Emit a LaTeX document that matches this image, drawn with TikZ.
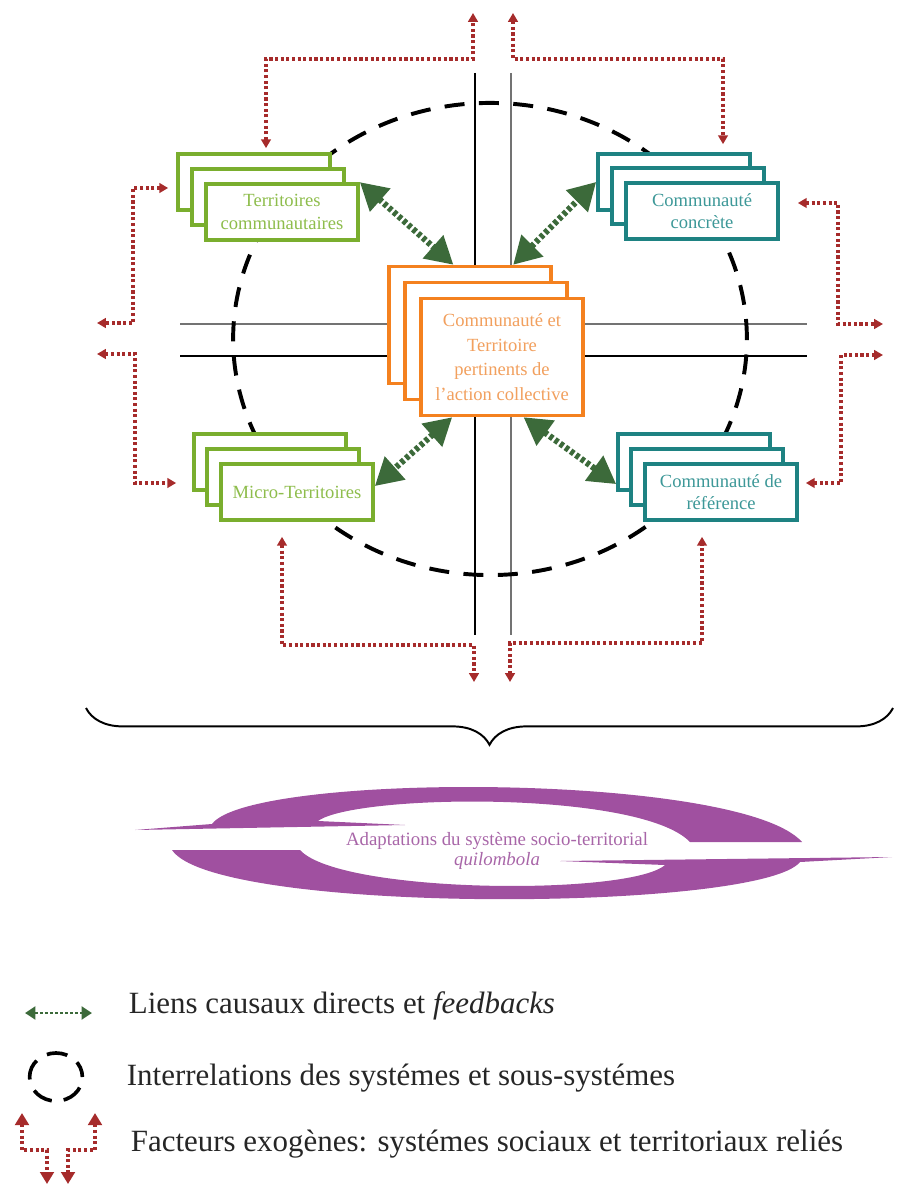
\documentclass[tikz,border=0pt]{standalone}
\usepackage{fontspec}
\setmainfont{Liberation Serif}
\usepackage{tikz}
\usetikzlibrary{arrows.meta,positioning,calc,decorations.pathreplacing}
\definecolor{terrgreen}{HTML}{7AAE2E}
\definecolor{terrtext}{HTML}{8EBD4C}
\definecolor{commteal}{HTML}{1E8282}
\definecolor{commtext}{HTML}{3D9898}
\definecolor{actorange}{HTML}{F4811F}
\definecolor{acttext}{HTML}{F2A05E}
\definecolor{causalgreen}{HTML}{3C6A3A}
\definecolor{exored}{HTML}{A62B2B}
\definecolor{adaptpurple}{HTML}{A050A0}
\definecolor{adapttext}{HTML}{A866A8}

\begin{document}
\begin{tikzpicture}[x=0.0125cm,y=-0.0125cm,
          every node/.style={font=\fontsize{6.6}{7.9}\selectfont},
          stackbox/.style={draw,line width=1.3pt,fill=white,minimum width=1.9cm,
                           minimum height=0.7cm,inner sep=1pt,align=center},
          terrbox/.style={stackbox,draw=terrgreen,text=terrtext},
          commbox/.style={stackbox,draw=commteal,text=commtext},
          actbox/.style={stackbox,draw=actorange,text=acttext,minimum width=2.03cm,
                         minimum height=1.46cm,font=\fontsize{6.6}{8.7}\selectfont},
          axisline/.style={line width=0.6pt},
          ring/.style={line width=1.4pt,dash pattern=on 2.5mm off 1.8mm},
          causal/.style={{Triangle[length=3.4mm,width=3.7mm]}-{Triangle[length=3.4mm,width=3.7mm]},
                         draw=causalgreen,line width=2.2pt,dash pattern=on 1.4pt off 0.9pt},
          exo/.style={{Triangle[length=1.1mm,width=1.2mm]}-{Triangle[length=1.1mm,width=1.2mm]},
                      draw=exored,line width=1.1pt,dash pattern=on 1.1pt off 0.9pt},
          legend/.style={anchor=west,text=black!85,font=\fontsize{11}{13}\selectfont}
      ]
        \useasboundingbox (0,0) rectangle (896,1187);

        % cross lines and interrelation ring
        \draw[axisline] (475,73) -- (475,635);
        \draw[axisline,black!55] (511,73) -- (511,635);
        \draw[axisline,black!55] (180,324) -- (807,324);
        \draw[axisline] (180,356) -- (807,356);
        \draw[ring] (490,339) ellipse [x radius=3.21cm,y radius=2.95cm];

        % stacked boxes
        \node[terrbox] (tc1) at (254,182) {};
        \node[terrbox] (tc2) at (268,197) {};
        \node[terrbox] (tc) at (282,212) {Territoires\\communautaires};

        \node[commbox] (cc1) at (674,182) {};
        \node[commbox] (cc2) at (688,196) {};
        \node[commbox] (cc) at (702,211) {Communauté\\concrète};

        \node[terrbox] (mt1) at (270,462) {};
        \node[terrbox] (mt2) at (283,477) {};
        \node[terrbox] (mt) at (297,492) {Micro-Territoires};

        \node[commbox] (cr1) at (694,462) {};
        \node[commbox] (cr2) at (707,477) {};
        \node[commbox] (cr) at (721,492) {Communauté de\\référence};

        \node[actbox] (act1) at (470,325) {};
        \node[actbox] (act2) at (486,341) {};
        \node[actbox] (act) at (502,357) {Communauté et\\Territoire\\pertinents de\\l'action collective};

        % direct causal links
        \draw[causal] (tc.north east) -- ($(act1.north west)!0.4!(act1.north east)$);
        \draw[causal] ($(act1.north west)!0.76!(act1.north east)$) -- (cc1.west);
        \draw[causal] ($(act.south west)!0.2!(act.south east)$) -- ($(mt.north east)!0.4!(mt.south east)$);
        \draw[causal] ($(act.south west)!0.63!(act.south east)$) -- ($(cr1.north west)!0.87!(cr1.south west)$);

        % exogenous factors
        \coordinate (ex1) at (473,13);
        \coordinate (ex2) at (513,13);
        \coordinate (ex3) at (97,323);
        \coordinate (ex4) at (97,354);
        \coordinate (ex5) at (883,324);
        \coordinate (ex6) at (883,355);
        \coordinate (ex7) at (474,682);
        \coordinate (ex8) at (510,682);
        \draw[exo] ($(tc1.north)+(12,-4)$) |- ($(ex1)+(0,46)$) -- (ex1);
        \draw[exo] (ex2) -- ++(0,46) -| ($(cc1.north)+(49,-8)$);
        \draw[exo] ($(tc1.west)+(-8,6)$) -| ($(ex3)+(36,0)$) -- (ex3);
        \draw[exo] (ex4) -- ++(38,0) |- ($(mt1.west)+(-16,21)$);
        \draw[exo] ($(cc.east)+(18,-8)$) -| ($(ex5)+(-45,0)$) -- (ex5);
        \draw[exo] (ex6) -- ++(-42,0) |- ($(cr.east)+(7,-9)$);
        \draw[exo] ($(mt.south)+(-15,15)$) |- ($(ex7)+(0,-37)$) -- (ex7);
        \draw[exo] (ex8) -- ++(0,-39) -| ($(cr.south)+(-19,15)$);

        % brace
        \coordinate (brl) at (86,708);
        \coordinate (brr) at (893,708);
        \draw[decorate,decoration={brace,mirror,amplitude=4.6mm},line width=0.7pt] (brl) -- (brr);

        % adaptation cycle
        \fill[adaptpurple] (135,830) -- (405,825) -- (318,821)
          .. controls (355,794) and (640,790) .. (690,842) -- (802,842)
          .. controls (740,772) and (250,772) .. (212,824) -- cycle;
        \fill[adaptpurple] (892,857) -- (560,861) -- (665,865)
          .. controls (630,896) and (340,894) .. (300,850) -- (172,850)
          .. controls (215,915) and (760,912) .. (800,862) -- cycle;
        \node[text=adapttext,align=center,font=\fontsize{6.7}{7.4}\selectfont] (adapt) at (497,851)
          {Adaptations du système socio-territorial\\\textit{quilombola}};

        % legend
        \coordinate (lc1) at (25,1013);
        \coordinate (lc2) at (92,1013);
        \draw[{Triangle[length=1.3mm,width=1.6mm]}-{Triangle[length=1.3mm,width=1.6mm]},
              draw=causalgreen,line width=1pt,dash pattern=on 1pt off 0.8pt] (lc1) -- (lc2);
        \node[legend] (lg1) at (119,1006) {Liens causaux directs et \textit{feedbacks}};

        \draw[line width=1.3pt,dash pattern=on 2.6mm off 1.5mm,dash phase=0.6mm] (56,1077) ellipse [x radius=0.33cm,y radius=0.3cm];
        \node[legend] (lg2) at (117,1078) {Interrelations des systémes et sous-systémes};

        \coordinate (le1) at (22,1113);
        \coordinate (le2) at (47,1184);
        \coordinate (le3) at (95,1113);
        \coordinate (le4) at (68,1184);
        \draw[exo,{Triangle[length=1.5mm,width=1.7mm]}-{Triangle[length=1.5mm,width=1.7mm]}] (le1) |- ($(le2)+(0,-34)$) -- (le2);
        \draw[exo,{Triangle[length=1.5mm,width=1.7mm]}-{Triangle[length=1.5mm,width=1.7mm]}] (le3) |- ($(le4)+(0,-34)$) -- (le4);
        \node[legend] (lg3) at (121,1144) {Facteurs exogènes: systémes sociaux et territoriaux reliés};
      \end{tikzpicture}
\end{document}
